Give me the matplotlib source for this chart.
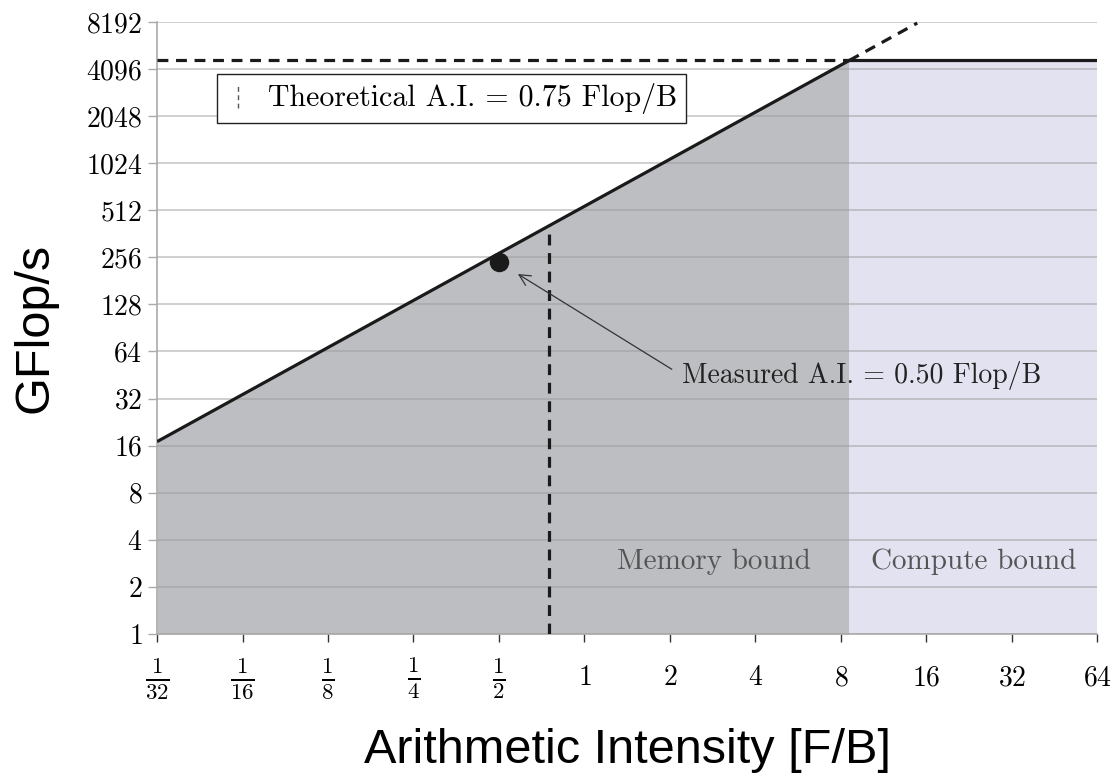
import numpy as np
import matplotlib
matplotlib.use('Agg')
import matplotlib.pyplot as plt
from matplotlib.lines import Line2D
from matplotlib.legend_handler import HandlerBase

# roofline data
peak_gflops = 4650.0        # compute roof
bandwidth = 543.0           # GB/s, memory roof slope
theoretical_ai = 0.75
measured_ai = 0.5
measured_gflops = 238.0

x_ticks = [1/32, 1/16, 1/8, 1/4, 1/2, 1, 2, 4, 8, 16, 32, 64]
x_labels = [r'$\frac{1}{32}$', r'$\frac{1}{16}$', r'$\frac{1}{8}$', r'$\frac{1}{4}$',
            r'$\frac{1}{2}$', '$1$', '$2$', '$4$', '$8$', '$16$', '$32$', '$64$']
y_ticks = [1, 2, 4, 8, 16, 32, 64, 128, 256, 512, 1024, 2048, 4096, 8192]
y_labels = [f'${v}$' for v in y_ticks]

x_min, x_max = x_ticks[0], x_ticks[-1]
y_min, y_max = y_ticks[0], y_ticks[-1]
ridge = peak_gflops / bandwidth

serif = ['cmr10', 'DejaVu Serif']


class VLineHandler(HandlerBase):
    def create_artists(self, legend, orig_handle, xdescent, ydescent,
                       width, height, fontsize, trans):
        x = width / 2 - xdescent
        line = Line2D([x, x], [-ydescent - 0.1 * height, height - ydescent + 0.1 * height],
                      linestyle=(0, (3.5, 2.5)), color='#555555', lw=1.0)
        line.set_transform(trans)
        return [line]


plt.rcParams['mathtext.fontset'] = 'cm'
plt.rcParams['font.family'] = ['Liberation Sans', 'DejaVu Sans']

fig = plt.figure(figsize=(11.14, 7.73), dpi=100)
ax = fig.add_axes([0.141, 0.180, 0.844, 0.7915])

ax.set_xscale('log', base=2)
ax.set_yscale('log', base=2)
ax.set_xlim(x_min, x_max)
ax.set_ylim(y_min, y_max)

# shaded regions
xm = np.array([x_min, ridge])
ax.fill_between(xm, y_min, bandwidth * xm, color='#bdbec2', lw=0, zorder=1)
ax.fill_between([ridge, x_max], y_min, peak_gflops, color='#e2e2f0', lw=0, zorder=1)

# roofline
dash = (0, (3.4, 2.4))
ax.plot(xm, bandwidth * xm, color='#1a1a1a', lw=2.3, zorder=3, solid_capstyle='butt')
ax.plot([ridge, x_max], [peak_gflops, peak_gflops], color='#1a1a1a', lw=2.3, zorder=3)
ax.plot([x_min, ridge], [peak_gflops, peak_gflops], color='#1a1a1a', lw=2.3,
        linestyle=dash, zorder=3)
x_ext = np.array([ridge, y_max / bandwidth * 0.985])
ax.plot(x_ext, bandwidth * x_ext, color='#1a1a1a', lw=2.3,
        linestyle=dash, zorder=3, clip_on=False)

# theoretical AI
ax.plot([theoretical_ai, theoretical_ai], [y_min, bandwidth * theoretical_ai],
        color='#1a1a1a', lw=2.3, linestyle=dash, zorder=3)

# measured point
ax.plot(measured_ai, measured_gflops, 'o', color='#1a1a1a', ms=13, zorder=4)
ax.annotate('Measured A.I. = 0.50 Flop/B',
            xy=(measured_ai, measured_gflops), xytext=(2.2, 45),
            ha='left', va='center', fontsize=20, color='#222222', family=serif,
            arrowprops=dict(arrowstyle='->', color='#333333', lw=0.9,
                            shrinkA=6, shrinkB=16, relpos=(0, 0.5)))

ax.text(2.85, 2.9, 'Memory bound', ha='center', va='center',
        fontsize=21, color='#555555', family=serif)
ax.text(23.5, 2.9, 'Compute bound', ha='center', va='center',
        fontsize=21, color='#555555', family=serif)

# legend
handle = Line2D([], [])
leg = ax.legend([handle], ['Theoretical A.I. = 0.75 Flop/B'],
                handler_map={Line2D: VLineHandler()},
                loc='upper left', bbox_to_anchor=(0.064, 0.915), borderaxespad=0,
                fancybox=False, framealpha=1, edgecolor='#222222',
                prop={'family': serif, 'size': 21.5},
                handlelength=0.8, handletextpad=0.6, borderpad=0.3)
leg.get_frame().set_linewidth(1.0)
leg.set_zorder(5)

# axes styling
ax.set_xticks(x_ticks)
ax.set_xticklabels(x_labels, va='center')
ax.set_yticks(y_ticks)
ax.set_yticklabels(y_labels)
ax.minorticks_off()
ax.tick_params(axis='x', labelsize=20, length=5.8, width=1, color='#333333', pad=26)
ax.tick_params(axis='y', labelsize=20, length=6.5, width=1, color='#aaaaaa', pad=4)
for lab, v in zip(ax.get_xticklabels(), x_ticks):
    if v < 1:
        lab.set_fontsize(23.5)
ax.grid(True, axis='y', color='#999999', alpha=0.55, lw=1.2)
ax.grid(False, axis='x')

for side in ['top', 'right']:
    ax.spines[side].set_visible(False)
ax.spines['left'].set_color('#aaaaaa')
ax.spines['bottom'].set_color('#aaaaaa')
ax.spines['left'].set_linewidth(1.2)
ax.spines['bottom'].set_linewidth(1.2)

ax.set_xlabel('Arithmetic Intensity [F/B]', fontsize=35, labelpad=19)
ax.set_ylabel('GFlop/s', fontsize=35, labelpad=20)

fig.savefig('out.png', dpi=100)
